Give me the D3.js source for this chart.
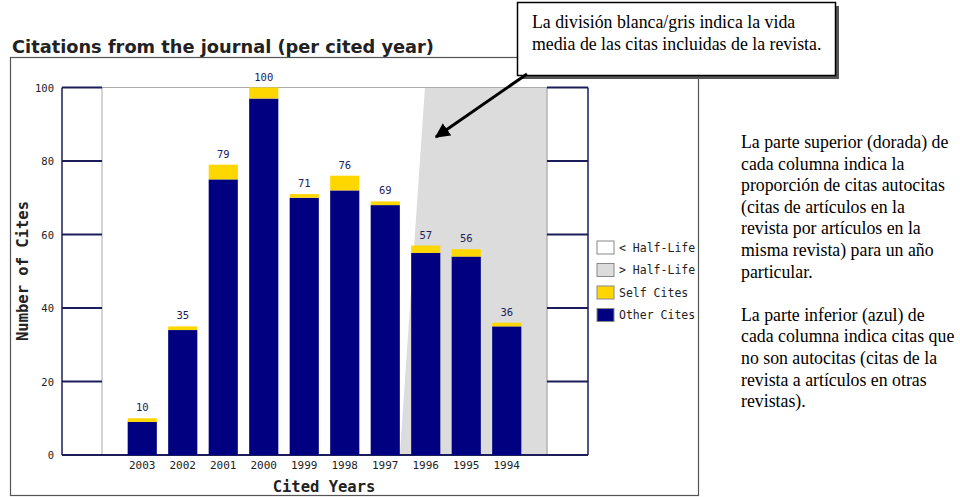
<!DOCTYPE html>
<html>
<head>
<meta charset="utf-8">
<script src="https://cdn.jsdelivr.net/npm/d3@7"></script>
<style>
  body { margin: 0; background: #fff; }
  svg { display: block; }
</style>
</head>
<body>
<script>
// values
const years = ["2003", "2002", "2001", "2000", "1999", "1998", "1997", "1996", "1995", "1994"];
const otherCites = [9, 34, 75, 97, 70, 72, 68, 55, 54, 35];
const selfCites = [1, 1, 4, 3, 1, 4, 1, 2, 2, 1];
const totals = [10, 35, 79, 100, 71, 76, 69, 57, 56, 36];
const yTicks = [0, 20, 40, 60, 80, 100];
// half-life edge, in band steps from the first year (top of plot, bottom of plot)
const halfLifeEdge = [7.48, 6.86];
const legendLabels = ["< Half-Life", "> Half-Life", "Self Cites", "Other Cites"];
const legendColors = ["#ffffff", "#dcdcdc", "#ffd700", "#000080"];
const calloutLines = ["La división blanca/gris indica la vida", "media de las citas incluidas de la revista."];
const noteLines = [
  "La parte superior (dorada) de", "cada columna indica la", "proporción de citas autocitas",
  "(citas de artículos en la", "revista por artículos en la", "misma revista) para un año",
  "particular.", "", "La parte inferior (azul) de", "cada columna indica citas que",
  "no son autocitas (citas de la", "revista a artículos en otras", "revistas)."
];

const width = 960, height = 497;
const navy = "#000080", mono = "'DejaVu Sans Mono', monospace";

const svg = d3.select("body").append("svg").attr("width", width).attr("height", height);
svg.append("rect").attr("width", width).attr("height", height).attr("fill", "#fff");

// title + outer frame
svg.append("text").attr("x", 12).attr("y", 53)
  .attr("font-family", "'DejaVu Sans', sans-serif").attr("font-weight", "bold")
  .attr("font-size", 17.8).attr("fill", "#222")
  .text("Citations from the journal (per cited year)");
svg.append("rect").attr("x", 10.5).attr("y", 57.5).attr("width", 688).attr("height", 438)
  .attr("fill", "none").attr("stroke", "#555").attr("stroke-width", 1.2);

const y = d3.scaleLinear().domain([0, 100]).range([455, 87.5]);
const x = d3.scaleBand().domain(years).range([122, 527]).paddingInner(0.28).paddingOuter(0.14);
const xi = d3.scaleLinear().domain([0, 10]).range([122, 527]);

const plotL = 102, plotR = 547, panelL = 62, panelR = 588;

// > half-life region
svg.append("path")
  .attr("d", d3.line()([
    [xi(halfLifeEdge[0]), y(100)], [plotR, y(100)], [plotR, y(0)], [xi(halfLifeEdge[1]), y(0)]
  ]))
  .attr("fill", "#dcdcdc").attr("stroke", "#c8c8c8");

// frame of plot area
svg.append("line").attr("x1", plotL).attr("x2", plotR).attr("y1", y(100)).attr("y2", y(100))
  .attr("stroke", "#aaa");
[plotL, plotR].forEach(px => svg.append("line").attr("x1", px).attr("x2", px)
  .attr("y1", y(100)).attr("y2", y(0)).attr("stroke", "#aaa"));
[panelL, panelR].forEach(px => svg.append("line").attr("x1", px).attr("x2", px)
  .attr("y1", y(100)).attr("y2", y(0)).attr("stroke", "#1c1c5a").attr("stroke-width", 1.5));

// side panel tick lines
const tickG = svg.append("g");
tickG.selectAll("line.l").data(yTicks).enter().append("line")
  .attr("x1", panelL).attr("x2", plotL).attr("y1", d => y(d)).attr("y2", d => y(d))
  .attr("stroke", "#1c1c5a").attr("stroke-width", 2);
tickG.selectAll("line.r").data(yTicks).enter().append("line")
  .attr("x1", plotR).attr("x2", panelR).attr("y1", d => y(d)).attr("y2", d => y(d))
  .attr("stroke", "#1c1c5a").attr("stroke-width", 2);
svg.append("line").attr("x1", panelL).attr("x2", panelR).attr("y1", y(0)).attr("y2", y(0))
  .attr("stroke", "#1c1c5a").attr("stroke-width", 2);

// y axis labels
svg.append("g").selectAll("text").data(yTicks).enter().append("text")
  .attr("x", 54).attr("y", d => y(d) + 4).attr("text-anchor", "end")
  .attr("font-family", mono).attr("font-size", 10.5).attr("fill", "#222")
  .text(d => d);

// bars
const bars = svg.append("g");
bars.selectAll("rect.other").data(years).enter().append("rect")
  .attr("x", d => x(d)).attr("width", x.bandwidth())
  .attr("y", (d, i) => y(otherCites[i])).attr("height", (d, i) => y(0) - y(otherCites[i]))
  .attr("fill", navy);
bars.selectAll("rect.self").data(years).enter().append("rect")
  .attr("x", d => x(d)).attr("width", x.bandwidth())
  .attr("y", (d, i) => y(otherCites[i] + selfCites[i])).attr("height", (d, i) => y(otherCites[i]) - y(otherCites[i] + selfCites[i]))
  .attr("fill", "#ffd700");
bars.selectAll("text").data(years).enter().append("text")
  .attr("x", d => x(d) + x.bandwidth() / 2).attr("y", (d, i) => y(totals[i]) - 7)
  .attr("text-anchor", "middle").attr("font-family", mono).attr("font-size", 10.5)
  .attr("fill", "#202060").text((d, i) => totals[i]);

// x axis labels
svg.append("g").selectAll("text").data(years).enter().append("text")
  .attr("x", d => x(d) + x.bandwidth() / 2).attr("y", 469)
  .attr("text-anchor", "middle").attr("font-family", mono).attr("font-size", 11)
  .attr("fill", "#222").text(d => d);

// axis titles
svg.append("text").attr("x", 324).attr("y", 492).attr("text-anchor", "middle")
  .attr("font-family", mono).attr("font-weight", "bold").attr("font-size", 15.5)
  .attr("fill", "#222").text("Cited Years");
svg.append("text").attr("transform", "translate(28,271) rotate(-90)").attr("text-anchor", "middle")
  .attr("font-family", mono).attr("font-weight", "bold").attr("font-size", 15.5)
  .attr("fill", "#222").text("Number of Cites");

// legend
const leg = svg.append("g").selectAll("g").data(legendLabels).enter().append("g")
  .attr("transform", (d, i) => `translate(597,${241 + i * 22.5})`);
leg.append("rect").attr("width", 17).attr("height", 13)
  .attr("fill", (d, i) => legendColors[i]).attr("stroke", "#888");
leg.append("text").attr("x", 22).attr("y", 10.5).attr("font-family", mono).attr("font-size", 11.5)
  .attr("fill", "#222").text(d => d);

// callout box with arrow
svg.append("rect").attr("x", 521).attr("y", 6).attr("width", 318).attr("height", 73).attr("fill", "#555");
svg.append("rect").attr("x", 517.5).attr("y", 2.5).attr("width", 318).attr("height", 73)
  .attr("fill", "#fff").attr("stroke", "#000").attr("stroke-width", 1.5);
svg.append("g").selectAll("text").data(calloutLines).enter().append("text")
  .attr("x", 532).attr("y", (d, i) => 28 + i * 22)
  .attr("font-family", "'Liberation Serif', serif").attr("font-size", 17.8).attr("fill", "#000")
  .text(d => d);
svg.append("defs").append("marker").attr("id", "ah").attr("viewBox", "0 0 10 10")
  .attr("refX", 9).attr("refY", 5).attr("markerWidth", 5).attr("markerHeight", 5)
  .attr("orient", "auto").append("path").attr("d", "M0,0L10,5L0,10Z").attr("fill", "#000");
svg.append("line").attr("x1", 527).attr("y1", 74).attr("x2", 436).attr("y2", 137)
  .attr("stroke", "#000").attr("stroke-width", 3).attr("marker-end", "url(#ah)");

// note on the right
svg.append("g").selectAll("text").data(noteLines).enter().append("text")
  .attr("x", 741).attr("y", (d, i) => 148 + i * 21.6)
  .attr("font-family", "'Liberation Serif', serif").attr("font-size", 17.8).attr("fill", "#000")
  .text(d => d);
</script>
</body>
</html>
